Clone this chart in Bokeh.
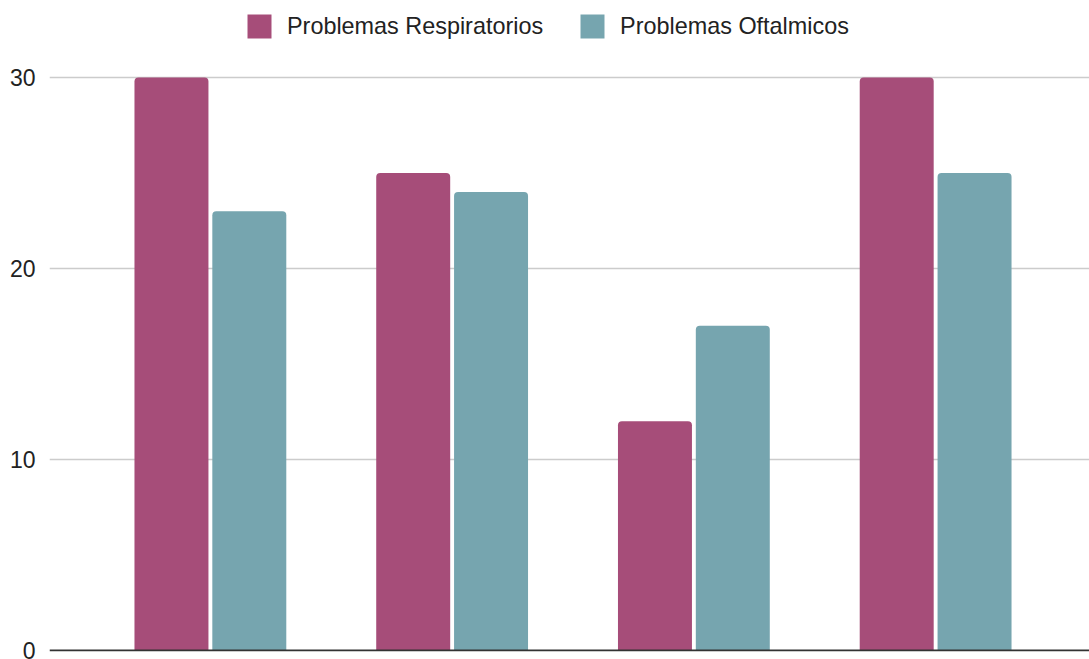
from bokeh.plotting import figure
from bokeh.models import ColumnDataSource, FactorRange, Range1d, FixedTicker, Legend, LegendItem, Span
from bokeh.transform import dodge
from bokeh.embed import file_html
from bokeh.resources import INLINE

categories = ["1", "2", "3", "4"]
respiratorios = [30, 25, 12, 30]
oftalmicos = [23, 24, 17, 25]
series_names = ["Problemas Respiratorios", "Problemas Oftalmicos"]
y_ticks = [0, 10, 20, 30]

c_resp = "#A64D79"
c_oft = "#76A5AF"
FONT = "Liberation Sans"

src = ColumnDataSource(dict(cat=categories, resp=respiratorios, oft=oftalmicos))

p = figure(width=1089, height=659, output_backend="svg", toolbar_location=None,
           x_range=FactorRange(*categories, range_padding=0.151, range_padding_units="absolute"),
           y_range=Range1d(-0.052, 34.03),
           min_border_left=49, min_border_right=0, min_border_top=0, min_border_bottom=8)
p.outline_line_color = None

r1 = p.vbar(x=dodge("cat", -0.1465, range=p.x_range), top="resp", width=0.306, source=src,
            fill_color=c_resp, line_color=None, border_radius=(4, 4, 0, 0))
r2 = p.vbar(x=dodge("cat", 0.1755, range=p.x_range), top="oft", width=0.306, source=src,
            fill_color=c_oft, line_color=None, border_radius=(4, 4, 0, 0))

# baseline
p.add_layout(Span(location=0, dimension="width", line_color="#333333", line_width=2))

p.xaxis.visible = False

p.yaxis.ticker = FixedTicker(ticks=y_ticks)
p.yaxis.axis_line_color = None
p.yaxis.major_tick_line_color = None
p.yaxis.minor_tick_line_color = None
p.yaxis.major_tick_out = 0
p.yaxis.major_tick_in = 0
p.yaxis.major_label_standoff = 14
p.yaxis.major_label_text_font = FONT
p.yaxis.major_label_text_font_size = "23px"
p.yaxis.major_label_text_color = "#222222"

p.xgrid.grid_line_color = None
p.ygrid.grid_line_color = "#cccccc"
p.ygrid.grid_line_width = 1.3
p.ygrid.ticker = FixedTicker(ticks=[10, 20, 30])

legend = Legend(items=[LegendItem(label=series_names[0], renderers=[r1]),
                       LegendItem(label=series_names[1], renderers=[r2])],
                orientation="horizontal", location=(195, 610))
legend.margin = 0
legend.padding = 0
legend.spacing = 34
legend.glyph_width = 30
legend.glyph_height = 30
legend.label_standoff = 13
legend.label_text_font = FONT
legend.label_text_font_size = "23.4px"
legend.label_text_color = "#222222"
legend.background_fill_alpha = 0
legend.border_line_color = None
p.add_layout(legend, "center")

open("out.html", "w").write(file_html(p, INLINE))
